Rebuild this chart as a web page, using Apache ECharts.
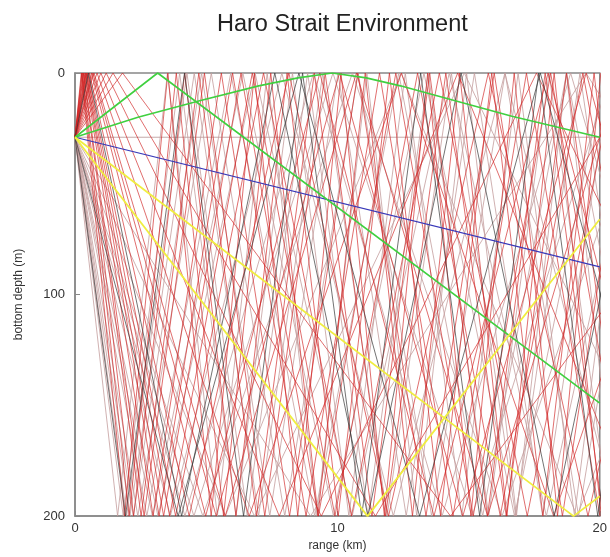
<!DOCTYPE html>
<html>
<head>
<meta charset="utf-8">
<script src="https://cdn.jsdelivr.net/npm/echarts@6/dist/echarts.min.js"></script>
<style>html,body{margin:0;padding:0;background:#fff}#c{width:610px;height:557px}</style>
</head>
<body>
<div id="c"></div>
<script>
// ---- data ----
const titleText = 'Haro Strait Environment';
const xTicks = [0, 10, 20];          // range (km)
const yTicks = [0, 100, 200];        // bottom depth (m)
const sourceDepthM = 29;
const bottomDepthM = 200;
const rangeMaxKm = 20;
// horizontal distance (km) each ray needs to cross the full water column
const redUpCycleKm    = [1.65, 1.8, 1.95, 2.2, 2.3, 2.6, 2.8, 2.95, 3.15, 3.35, 3.8, 4.35, 4.7, 5.0, 5.8, 6.8, 8.2, 10.0, 12.5];
const roseDownCycleKm = [1.9, 2.15, 2.3, 2.45, 2.6, 2.8, 3.2, 3.45, 3.7, 4.25, 4.9, 5.3, 5.7, 6.7, 8.0, 10.5];
const blackUpCycleKm   = [3.55];
const blackDownCycleKm = [2.25, 4.6];
// highlighted rays: [range km, depth m] vertices
const greenSteep   = [[0, 29], [3.15, 0], [20, 149]];
const greenShallow = [[0, 29], [2.4, 20], [4.75, 12.5], [7, 5.8], [8.5, 2.2], [9.8, 0], [11.1, 2.2], [12.4, 5.8], [16.65, 19.5], [20, 29]];
const blueRay      = [[0, 29], [20, 87.5]];
const yellowSteep  = [[0, 29], [11.15, 200], [20, 66]];
const yellowShallow= [[0, 29], [19, 200], [20, 191]];
const sourceLine   = [[0, 29], [20, 29]];

// reflect a ray between surface and bottom (library clips beyond the axis)
function rayPath(cycle, up) {
  const pts = [[0, sourceDepthM]];
  let r = up ? sourceDepthM / bottomDepthM * cycle : (bottomDepthM - sourceDepthM) / bottomDepthM * cycle;
  let z = up ? 0 : bottomDepthM;
  while (true) {
    pts.push([r, z]);
    if (r >= rangeMaxKm) break;
    r += cycle;
    z = bottomDepthM - z;
  }
  return pts;
}

const series = [];
function addLine(data, color, width, z) {
  series.push({type: 'line', data: data, symbol: 'none', silent: true, animation: false,
    clip: true, z: z, lineStyle: {color: color, width: width}});
}
addLine(sourceLine, 'rgba(190,160,160,0.9)', 1, 1);
roseDownCycleKm.forEach(L => addLine(rayPath(L, false), 'rgba(195,155,155,0.78)', 1, 2));
redUpCycleKm.forEach(L => addLine(rayPath(L, true), 'rgba(208,35,35,0.66)', 1, 3));
blackUpCycleKm.forEach(L => addLine(rayPath(L, true), 'rgba(55,55,55,0.7)', 1, 4));
blackDownCycleKm.forEach(L => addLine(rayPath(L, false), 'rgba(55,55,55,0.7)', 1, 4));
addLine(blueRay, '#3838b8', 1.2, 10);
addLine(greenSteep, '#40d040', 1.6, 11);
addLine(greenShallow, '#40d040', 1.6, 11);
addLine(yellowSteep, '#f0ee40', 1.8, 12);
addLine(yellowShallow, '#f0ee40', 1.8, 12);

const chart = echarts.init(document.getElementById('c'), null, {renderer: 'canvas'});
const fam = 'Liberation Sans, Arial, sans-serif';
const axisText = {color: '#333', fontFamily: fam, fontSize: 13};
chart.setOption({
  backgroundColor: '#fff',
  animation: false,
  title: {text: titleText, left: 212, top: 8, textStyle: {fontFamily: fam, fontSize: 23.5, fontWeight: 'normal', color: '#222'}},
  grid: {left: 75, right: 9, top: 73, bottom: 38},
  xAxis: {type: 'value', min: xTicks[0], max: xTicks[xTicks.length - 1], interval: 10,
    name: 'range (km)', nameLocation: 'middle', nameGap: 22, nameTextStyle: {color: '#333', fontFamily: fam, fontSize: 12},
    axisLine: {onZero: false, lineStyle: {color: '#888', width: 1.5}}, axisTick: {inside: true, length: 5, lineStyle: {color: '#888'}},
    axisLabel: Object.assign({margin: 6}, axisText), splitLine: {show: false}},
  yAxis: {type: 'value', inverse: true, min: yTicks[0], max: yTicks[yTicks.length - 1], interval: 100,
    name: 'bottom depth (m)', nameLocation: 'middle', nameGap: 50, nameTextStyle: {color: '#333', fontFamily: fam, fontSize: 12},
    axisLine: {onZero: false, lineStyle: {color: '#888', width: 1.5}}, axisTick: {inside: true, length: 5, lineStyle: {color: '#888'}},
    axisLabel: Object.assign({margin: 10}, axisText), splitLine: {show: false}},
  series: series.concat([{type: 'line', data: [], markArea: {silent: true, itemStyle: {color: 'rgba(0,0,0,0)', borderColor: '#888', borderWidth: 1.5}, data: [[{coord: [0, 0]}, {coord: [20, 200]}]]}}])
});
</script>
</body>
</html>
